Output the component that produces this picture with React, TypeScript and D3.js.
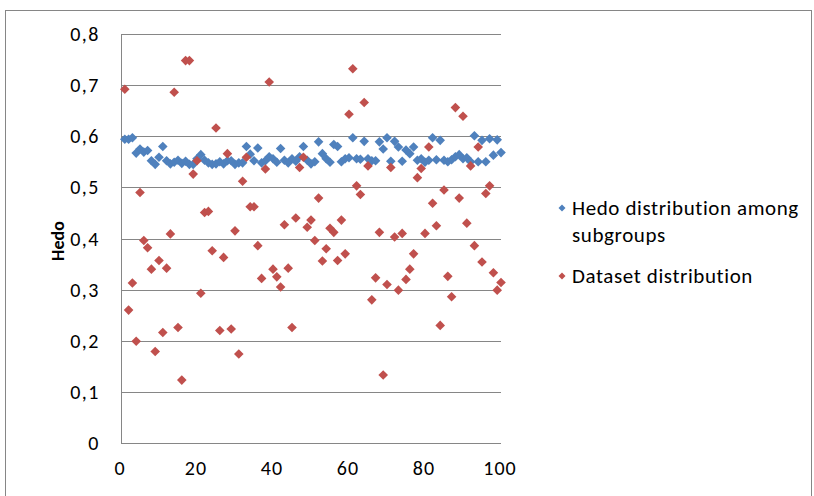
import React, { useEffect, useRef } from 'react';
import * as d3 from 'd3';

// Hedo distribution among subgroups (blue)
const hedoX = d3.range(1, 101);
const hedoY = [
  0.594, 0.594, 0.597, 0.567, 0.575, 0.569, 0.572, 0.552, 0.545, 0.559,
  0.58, 0.552, 0.546, 0.549, 0.553, 0.547, 0.551, 0.545, 0.545, 0.556,
  0.564, 0.553, 0.548, 0.545, 0.546, 0.55, 0.546, 0.552, 0.552, 0.545,
  0.548, 0.548, 0.58, 0.565, 0.552, 0.577, 0.548, 0.552, 0.56, 0.556,
  0.549, 0.576, 0.553, 0.548, 0.556, 0.551, 0.56, 0.58, 0.553, 0.546,
  0.55, 0.589, 0.566, 0.556, 0.549, 0.584, 0.58, 0.55, 0.556, 0.558,
  0.597, 0.556, 0.555, 0.59, 0.556, 0.552, 0.552, 0.589, 0.575, 0.597,
  0.551, 0.59, 0.579, 0.551, 0.573, 0.566, 0.579, 0.553, 0.556, 0.549,
  0.553, 0.597, 0.554, 0.592, 0.553, 0.55, 0.554, 0.56, 0.564, 0.556,
  0.558, 0.55, 0.601, 0.55, 0.592, 0.55, 0.595, 0.563, 0.593, 0.568
];

// Dataset distribution (red)
const dataX = d3.range(1, 101);
const dataY = [
  0.692, 0.26, 0.313, 0.199, 0.49, 0.396, 0.382, 0.34, 0.179, 0.357,
  0.216, 0.342, 0.409, 0.686, 0.226, 0.123, 0.748, 0.748, 0.526, 0.552,
  0.293, 0.451, 0.453, 0.376, 0.616, 0.22, 0.363, 0.566, 0.223, 0.415,
  0.174, 0.512, 0.559, 0.462, 0.462, 0.386, 0.322, 0.536, 0.706, 0.34,
  0.325, 0.305, 0.427, 0.342, 0.226, 0.44, 0.539, 0.559, 0.422, 0.436,
  0.396, 0.479, 0.356, 0.38, 0.42, 0.412, 0.357, 0.436, 0.37, 0.643,
  0.732, 0.503, 0.486, 0.666, 0.542, 0.28, 0.323, 0.412, 0.133, 0.31,
  0.539, 0.403, 0.299, 0.41, 0.32, 0.34, 0.37, 0.519, 0.537, 0.41,
  0.579, 0.469, 0.425, 0.23, 0.495, 0.326, 0.286, 0.656, 0.479, 0.639,
  0.43, 0.542, 0.386, 0.579, 0.354, 0.488, 0.503, 0.333, 0.299, 0.314
];

const xTicks = [0, 20, 40, 60, 80, 100];
const yTicks = [0, 0.1, 0.2, 0.3, 0.4, 0.5, 0.6, 0.7, 0.8];
const seriesNames = ['Hedo distribution among', 'subgroups', 'Dataset distribution'];
const colors = ['#4F81BD', '#C0504D'];

const font = 'Calibri, Carlito, "Open Sans", sans-serif';

function diamond(r: number) {
  return `M0,${-r}L${r},0L0,${r}L${-r},0Z`;
}

export default function App() {
  const ref = useRef<SVGSVGElement>(null);

  useEffect(() => {
    const svg = d3.select(ref.current);
    svg.selectAll('*').remove();

    const x = d3.scaleLinear().domain([0, 100]).range([121, 501]);
    const y = d3.scaleLinear().domain([0, 0.8]).range([443, 34]);

    // outer chart border
    svg.append('rect')
      .attr('x', 5.5).attr('y', 10.5)
      .attr('width', 806).attr('height', 500)
      .attr('fill', 'white')
      .attr('stroke', '#868686');

    // gridlines
    svg.append('g')
      .selectAll('line')
      .data(yTicks.slice(1))
      .join('line')
      .attr('x1', x(0)).attr('x2', x(100))
      .attr('y1', d => Math.round(y(d)) + 0.5)
      .attr('y2', d => Math.round(y(d)) + 0.5)
      .attr('stroke', '#868686');

    // axes lines
    svg.append('line')
      .attr('x1', x(0) + 0.5).attr('x2', x(0) + 0.5)
      .attr('y1', y(0.8)).attr('y2', y(0) + 0.5)
      .attr('stroke', '#868686');
    svg.append('line')
      .attr('x1', x(0)).attr('x2', x(100))
      .attr('y1', Math.round(y(0)) + 0.5).attr('y2', Math.round(y(0)) + 0.5)
      .attr('stroke', '#868686');

    // y tick labels
    svg.append('g')
      .selectAll('text')
      .data(yTicks)
      .join('text')
      .attr('x', 100)
      .attr('y', d => y(d) + 7)
      .attr('text-anchor', 'end')
      .attr('font-family', font)
      .attr('font-size', 20)
      .attr('letter-spacing', 1.5)
      .attr('fill', '#000')
      .text(d => d3.format('.1f')(d).replace('.', ',').replace(/^0,0$/, '0'));

    // x tick labels
    svg.append('g')
      .selectAll('text')
      .data(xTicks)
      .join('text')
      .attr('x', d => x(d) - 1)
      .attr('y', 475)
      .attr('text-anchor', 'middle')
      .attr('font-family', font)
      .attr('font-size', 20)
      .attr('letter-spacing', 1)
      .attr('fill', '#000')
      .text(d => String(d));

    // y axis title
    svg.append('text')
      .attr('transform', 'translate(64,241) rotate(-90)')
      .attr('text-anchor', 'middle')
      .attr('font-family', font)
      .attr('font-size', 18)
      .attr('font-weight', 'bold')
      .text('Hedo');

    // points
    const hedo = hedoX.map((d, i) => [d, hedoY[i]]);
    const dataset = dataX.map((d, i) => [d, dataY[i]]);

    svg.append('g')
      .selectAll('path')
      .data(hedo)
      .join('path')
      .attr('d', diamond(4.8))
      .attr('transform', d => `translate(${x(d[0])},${y(d[1])})`)
      .attr('fill', colors[0]);

    svg.append('g')
      .selectAll('path')
      .data(dataset)
      .join('path')
      .attr('d', diamond(4.8))
      .attr('transform', d => `translate(${x(d[0])},${y(d[1])})`)
      .attr('fill', colors[1]);

    // legend
    const lg = svg.append('g');
    lg.append('path').attr('d', diamond(3.5)).attr('transform', 'translate(562,208)').attr('fill', colors[0]);
    lg.append('path').attr('d', diamond(3.5)).attr('transform', 'translate(562,276)').attr('fill', colors[1]);
    [[seriesNames[0], 215], [seriesNames[1], 242], [seriesNames[2], 283]].forEach(([t, yy]) => {
      lg.append('text')
        .attr('x', 572)
        .attr('y', yy as number)
        .attr('font-family', font)
        .attr('font-size', 21)
        .attr('letter-spacing', 0.6)
        .attr('fill', '#000')
        .text(t as string);
    });
  }, []);

  return (
    <svg ref={ref} width={814} height={496}
      style={{ position: 'absolute', left: 0, top: 0, background: 'white' }} />
  );
}
